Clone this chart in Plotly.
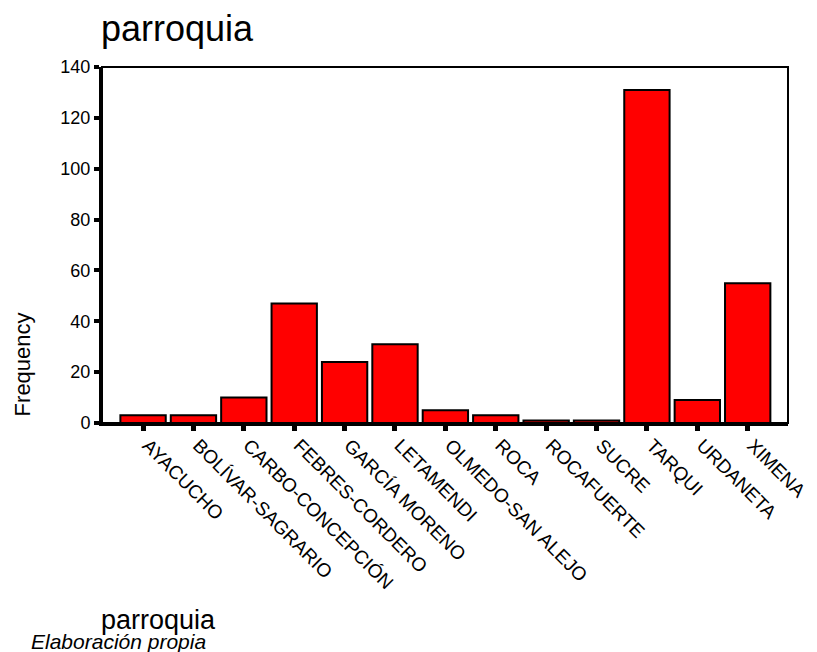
import plotly.graph_objects as go

categories = ["AYACUCHO", "BOLÍVAR-SAGRARIO", "CARBO-CONCEPCIÓN", "FEBRES-CORDERO",
              "GARCÍA MORENO", "LETAMENDI", "OLMEDO-SAN ALEJO", "ROCA", "ROCAFUERTE",
              "SUCRE", "TARQUI", "URDANETA", "XIMENA"]
frequency = [3, 3, 10, 47, 24, 31, 5, 3, 1, 1, 131, 9, 55]
y_ticks = [0, 20, 40, 60, 80, 100, 120, 140]

FONT = "Liberation Sans, Arial, sans-serif"

fig = go.Figure(go.Bar(
    x=categories, y=frequency, width=0.9,
    marker=dict(color="#FF0000", line=dict(color="black", width=2)),
))

fig.update_layout(
    width=809, height=644,
    paper_bgcolor="white", plot_bgcolor="white",
    margin=dict(l=94, r=29, t=59, b=229, autoexpand=False),
    showlegend=False,
    font=dict(family=FONT, color="black"),
    shapes=[dict(type="rect", xref="paper", yref="paper", x0=0, x1=1, y0=0, y1=1,
                 line=dict(color="black", width=2), layer="above")],
    annotations=[
        dict(text="parroquia", xref="paper", yref="paper", x=-0.004, y=1.0, yshift=39,
             xanchor="left", yanchor="middle", showarrow=False, font=dict(size=36)),
        dict(text="Frequency", xref="paper", yref="paper", x=-0.1155, xanchor="center",
             y=0.164, yanchor="middle", textangle=-90, showarrow=False, font=dict(size=22)),
        dict(text="parroquia", xref="paper", yref="paper", x=-0.004, xanchor="left",
             y=0, yshift=-197, yanchor="middle", showarrow=False, font=dict(size=27)),
        dict(text="<i>Elaboración propia</i>", xref="paper", yref="paper", x=-0.106,
             xanchor="left", y=0, yshift=-218, yanchor="middle", showarrow=False,
             font=dict(size=21)),
    ],
)

fig.update_xaxes(
    type="category", range=[-0.815, 12.8],
    showline=True, linecolor="black", linewidth=3,
    ticks="outside", ticklen=5, tickwidth=5, tickcolor="black",
    tickangle=45, tickfont=dict(size=19), showgrid=False, zeroline=False,
    ticklabelshift=5, ticklabelstandoff=-4,
)
fig.update_yaxes(
    range=[0, 140], tickvals=y_ticks,
    showline=True, linecolor="black", linewidth=3,
    ticks="outside", ticklen=5, tickwidth=4, tickcolor="black",
    tickfont=dict(size=18), showgrid=False, zeroline=False,
)

fig.write_html("out.html")
